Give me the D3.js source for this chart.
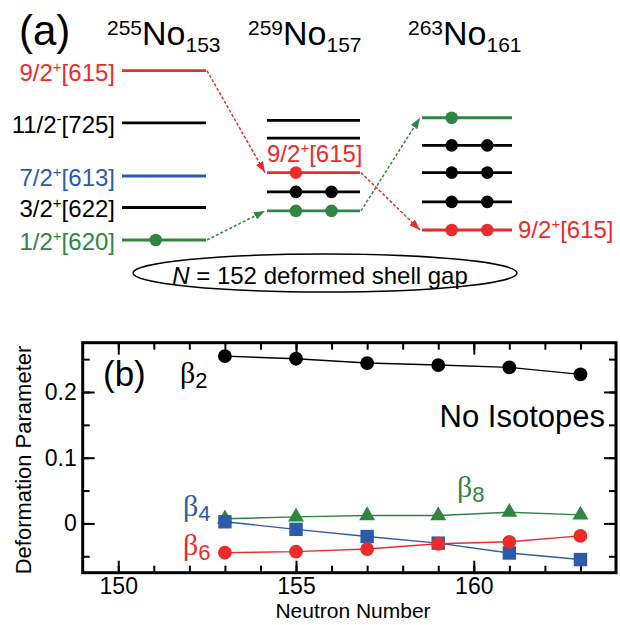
<!DOCTYPE html>
<html>
<head>
<meta charset="utf-8">
<script src="https://cdn.jsdelivr.net/npm/d3@7"></script>
<style>
  body { margin: 0; background: #fff; }
  svg { display: block; font-family: "Liberation Sans", Arial, sans-serif; }
</style>
</head>
<body>
<svg width="620" height="625"></svg>
<script>
// ---- panel (a) data: single-particle levels (schematic energies) ----
const massNumbers = [255, 259, 263];
const neutronCounts = [153, 157, 161];

// energy in arbitrary units, orbital id, label, number of filled dots
const levels255 = [
  {e: 10.0, orb: "615", label: "9/2+[615]", n: 0},
  {e: 6.92, orb: "725", label: "11/2-[725]", n: 0},
  {e: 3.78, orb: "613", label: "7/2+[613]", n: 0},
  {e: 1.92, orb: "622", label: "3/2+[622]", n: 0},
  {e: 0.00, orb: "620", label: "1/2+[620]", n: 1}
];
const levels259 = [
  {e: 7.06, orb: null, n: 0},
  {e: 6.02, orb: null, n: 0},
  {e: 3.98, orb: "615", label: "9/2+[615]", n: 1},
  {e: 2.84, orb: null, n: 2},
  {e: 1.72, orb: "620", n: 2}
];
const levels263 = [
  {e: 7.22, orb: "620", n: 1},
  {e: 5.59, orb: null, n: 2},
  {e: 3.98, orb: null, n: 2},
  {e: 2.25, orb: null, n: 2},
  {e: 0.59, orb: "615", label: "9/2+[615]", n: 2}
];
const gapText = ["N", " = 152 deformed shell gap"];

// ---- panel (b) data: deformation parameters ----
const neutronNumber = [153, 155, 157, 159, 161, 163];
const beta2 = [0.2545, 0.2506, 0.2440, 0.2410, 0.2374, 0.2268];
const beta4 = [0.0025, -0.0090, -0.0200, -0.0300, -0.0450, -0.0550];
const beta6 = [-0.0445, -0.0430, -0.0390, -0.0310, -0.0280, -0.0190];
const beta8 = [0.0070, 0.0100, 0.0120, 0.0120, 0.0170, 0.0130];
const xTickLabels = [150, 155, 160];
const yTickLabels = [0, 0.1, 0.2];

const red = "#ec2b2b", blue = "#2b5caa", green = "#2f8541";
const orbColor = {"615": red, "613": blue, "620": green};

const svg = d3.select("svg");

// ================= panel (a) =================
const colCenter = d3.scaleOrdinal().domain([0, 1, 2]).range([164, 313.5, 467]);
const colHalf = [42, 46.5, 45];
const dotCenter = [173.5, 313.7, 469.5];
const dotStep = 17.8;
const yE = d3.scaleLinear().domain([0, 10]).range([240, 70.7]);
const columns = [levels255, levels259, levels263];

const gA = svg.append("g");

gA.append("text").attr("x", 19).attr("y", 45)
  .attr("font-size", 42).text("(a)");

// isotope headers
const headerX = [107, 248, 408];
massNumbers.forEach(function(a, i) {
  const t = gA.append("text").attr("x", headerX[i]).attr("y", 35);
  t.append("tspan").attr("font-size", 21).text(a);
  t.append("tspan").attr("font-size", 34).attr("dy", 10).text("No");
  t.append("tspan").attr("font-size", 21).attr("dy", 7).text(neutronCounts[i]);
});

// arrow markers
const defs = svg.append("defs");
[["arrRed", red], ["arrGreen", green]].forEach(function(m) {
  defs.append("marker").attr("id", m[0])
    .attr("markerUnits", "userSpaceOnUse")
    .attr("markerWidth", 12).attr("markerHeight", 8)
    .attr("refX", 11).attr("refY", 4).attr("orient", "auto")
    .append("path").attr("d", "M0,0 L11,4 L0,8 z").attr("fill", m[1]);
});

// dashed connectors between same orbitals
["615", "620"].forEach(function(orb) {
  for (let c = 0; c < 2; c++) {
    const a = columns[c].find(d => d.orb === orb);
    const b = columns[c + 1].find(d => d.orb === orb);
    gA.append("line")
      .attr("x1", colCenter(c) + colHalf[c] + 1).attr("y1", yE(a.e))
      .attr("x2", colCenter(c + 1) - colHalf[c + 1] - 2).attr("y2", yE(b.e))
      .attr("stroke", orbColor[orb]).attr("stroke-width", 1.5)
      .attr("stroke-dasharray", "3,2")
      .attr("marker-end", orb === "615" ? "url(#arrRed)" : "url(#arrGreen)");
  }
});

function addLabel(sel, label) {
  const m = label.match(/^(\d+\/2)([+-])(\[\d+\])$/);
  sel.append("tspan").text(m[1]);
  sel.append("tspan").attr("font-size", 15).attr("dy", -9).text(m[2]);
  sel.append("tspan").attr("dy", 9).text(m[3]);
}

columns.forEach(function(levels, c) {
  levels.forEach(function(d) {
    const col = orbColor[d.orb] || "#000";
    const yy = yE(d.e);
    gA.append("line")
      .attr("x1", colCenter(c) - colHalf[c]).attr("x2", colCenter(c) + colHalf[c])
      .attr("y1", yy).attr("y2", yy)
      .attr("stroke", col).attr("stroke-width", 2.8);
    const slots = d.n === 2 ? [-1, 1] : d.n === 1 ? [-1] : [];
    slots.forEach(function(s) {
      gA.append("circle").attr("cx", dotCenter[c] + s * dotStep).attr("cy", yy)
        .attr("r", 6.3).attr("fill", col);
    });
    if (d.label) {
      const t = gA.append("text").attr("font-size", 24).attr("fill", col);
      if (c === 0) t.attr("x", 115).attr("y", yy + 10).attr("text-anchor", "end");
      if (c === 1) t.attr("x", 267).attr("y", yy - 11);
      if (c === 2) t.attr("x", 518).attr("y", yy + 8);
      addLabel(t, d.label);
    }
  });
});

// shell gap ellipse
gA.append("ellipse").attr("cx", 325).attr("cy", 273).attr("rx", 192).attr("ry", 19)
  .attr("fill", "none").attr("stroke", "#000").attr("stroke-width", 1.5);
const gt = gA.append("text").attr("x", 320).attr("y", 284)
  .attr("text-anchor", "middle").attr("font-size", 24);
gt.append("tspan").attr("font-style", "italic").text(gapText[0]);
gt.append("tspan").text(gapText[1]);

// ================= panel (b) =================
const x = d3.scaleLinear().domain([149, 164]).range([82.7, 616]);
const y = d3.scaleLinear().domain([-0.075, 0.275]).range([572.7, 342.7]);
const gB = svg.append("g");

const minorX = d3.range(150, 164, 1);
const minorY = d3.range(-0.05, 0.26, 0.05);

function styleAxis(g) {
  g.select(".domain").remove();
  g.selectAll(".tick line").attr("stroke", "#000").attr("stroke-width", 2);
  g.selectAll(".tick text").attr("font-size", 23).attr("fill", "#000")
    .attr("font-family", "Liberation Sans, Arial, sans-serif");
}

// minor ticks on all sides
gB.append("g").attr("transform", `translate(0,${y.range()[0]})`)
  .call(d3.axisBottom(x).tickValues(minorX).tickSize(-7).tickFormat("")).call(styleAxis);
gB.append("g").attr("transform", `translate(0,${y.range()[1]})`)
  .call(d3.axisTop(x).tickValues(minorX).tickSize(-7).tickFormat("")).call(styleAxis);
gB.append("g").attr("transform", `translate(${x.range()[0]},0)`)
  .call(d3.axisLeft(y).tickValues(minorY).tickSize(-7).tickFormat("")).call(styleAxis);
gB.append("g").attr("transform", `translate(${x.range()[1]},0)`)
  .call(d3.axisRight(y).tickValues(minorY).tickSize(-7).tickFormat("")).call(styleAxis);

// major ticks with labels
gB.append("g").attr("transform", `translate(0,${y.range()[0]})`)
  .call(d3.axisBottom(x).tickValues(xTickLabels).tickSize(-12).tickPadding(5).tickFormat(d3.format("d")))
  .call(styleAxis);
gB.append("g").attr("transform", `translate(0,${y.range()[1]})`)
  .call(d3.axisTop(x).tickValues(xTickLabels).tickSize(-12).tickFormat("")).call(styleAxis);
gB.append("g").attr("transform", `translate(${x.range()[0]},0)`)
  .call(d3.axisLeft(y).tickValues(yTickLabels).tickSize(-12).tickPadding(6)
    .tickFormat(d => d === 0 ? "0" : d3.format(".1f")(d)))
  .call(styleAxis);
gB.append("g").attr("transform", `translate(${x.range()[1]},0)`)
  .call(d3.axisRight(y).tickValues(yTickLabels).tickSize(-12).tickFormat("")).call(styleAxis);

// frame
gB.append("rect")
  .attr("x", x.range()[0]).attr("y", y.range()[1])
  .attr("width", x.range()[1] - x.range()[0]).attr("height", y.range()[0] - y.range()[1])
  .attr("fill", "none").attr("stroke", "#000").attr("stroke-width", 3);

// series
const series = [
  {vals: beta8, color: green, sym: d3.symbolTriangle, size: 110},
  {vals: beta4, color: blue, sym: d3.symbolSquare, size: 180},
  {vals: beta6, color: red, sym: d3.symbolCircle, size: 150},
  {vals: beta2, color: "#000", sym: d3.symbolCircle, size: 150}
];
const line = d3.line().x(d => x(d[0])).y(d => y(d[1]));
series.forEach(function(s) {
  const pts = neutronNumber.map((n, i) => [n, s.vals[i]]);
  gB.append("path").attr("d", line(pts)).attr("fill", "none")
    .attr("stroke", s.color).attr("stroke-width", 1.4);
  gB.selectAll(null).data(pts).enter().append("path")
    .attr("transform", d => `translate(${x(d[0])},${y(d[1])})`)
    .attr("d", d3.symbol().type(s.sym).size(s.size))
    .attr("fill", s.color);
});

// labels
gB.append("text").attr("x", 103).attr("y", 386).attr("font-size", 35).text("(b)");
gB.append("text").attr("x", 605).attr("y", 427).attr("text-anchor", "end")
  .attr("font-size", 31).text("No Isotopes");

function betaLabel(px, py, sub, color) {
  const t = gB.append("text").attr("x", px).attr("y", py).attr("fill", color);
  t.append("tspan").attr("font-family", "Liberation Serif, Times New Roman, serif")
    .attr("font-size", 30).text("\u03b2");
  t.append("tspan").attr("font-size", 22).attr("dy", 5).text(sub);
}
betaLabel(180, 383, "2", "#000");
betaLabel(183, 516, "4", blue);
betaLabel(183, 555, "6", red);
betaLabel(457, 497, "8", green);

// axis titles
svg.append("text").attr("x", 353).attr("y", 618).attr("text-anchor", "middle")
  .attr("font-size", 21).text("Neutron Number");
svg.append("text").attr("transform", "translate(31,460) rotate(-90)")
  .attr("text-anchor", "middle").attr("font-size", 22).text("Deformation Parameter");
</script>
</body>
</html>
